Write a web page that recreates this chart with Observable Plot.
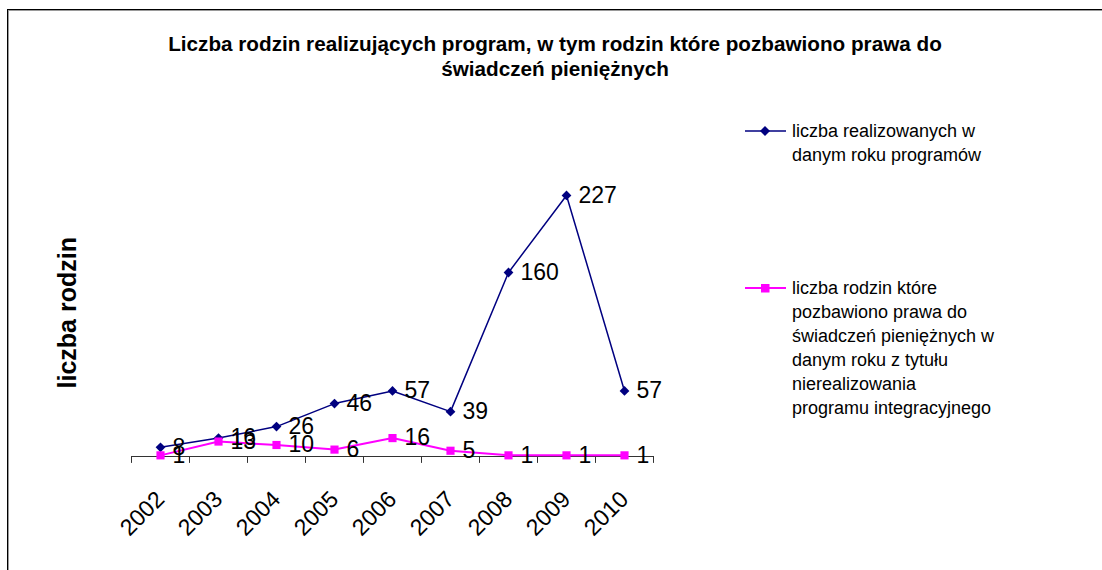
<!DOCTYPE html>
<html>
<head>
<meta charset="utf-8">
<script src="https://cdn.jsdelivr.net/npm/d3@7"></script>
<script src="https://cdn.jsdelivr.net/npm/@observablehq/plot@0.6"></script>
<style>
  html, body { margin: 0; padding: 0; background: #fff; }
  body { font-family: "Liberation Sans", Arial, sans-serif; }
  #wrap { position: relative; width: 1102px; height: 570px; overflow: hidden; background: #fff; }
  #frame { position: absolute; left: 7px; top: 9px; width: 1200px; height: 700px;
           border-left: 1px solid #000; border-top: 1px solid #000; box-shadow: inset 1px 1px 0 #9a9a9a; }
  #title { position: absolute; left: 0; width: 1110px; top: 31px; text-align: center;
           font-weight: bold; font-size: 20.7px; line-height: 25px; color: #000; }
  #chart { position: absolute; left: 0; top: 0; }
  .leg { position: absolute; font-size: 18px; line-height: 24px; color: #000; }
  .leg svg { position: absolute; left: -47px; top: 6px; }
</style>
</head>
<body>
<div id="wrap">
  <div id="frame"></div>
  <div id="chart"></div>
  <div id="title"></div>
  <div id="legend"></div>
</div>
<script>
// ---- data ----
const years = ["2002", "2003", "2004", "2005", "2006", "2007", "2008", "2009", "2010"];
const programs = [8, 16, 26, 46, 57, 39, 160, 227, 57];
const deprived = [1, 13, 10, 6, 16, 5, 1, 1, 1];
const seriesNames = [
  "liczba realizowanych w danym roku programów",
  "liczba rodzin które pozbawiono prawa do świadczeń pieniężnych w danym roku z tytułu nierealizowania programu integracyjnego"
];
const legendLines = [
  ["liczba realizowanych w", "danym roku programów"],
  ["liczba rodzin które", "pozbawiono prawa do", "świadczeń pieniężnych w", "danym roku z tytułu", "nierealizowania", "programu integracyjnego"]
];
const titleLines = ["Liczba rodzin realizujących program, w tym rodzin które pozbawiono prawa do", "świadczeń pieniężnych"];
const yTitle = "liczba rodzin";

const colors = ["#000080", "#FF00FF"];

const rowsA = years.map((y, i) => ({year: y, value: programs[i]}));
const rowsB = years.map((y, i) => ({year: y, value: deprived[i]}));

const W = 1102, H = 570;
const mL = 131, mR = 449, mT = 168.5, mB = 114;
const bw = (W - mL - mR) / years.length;
const font = "Liberation Sans, Arial, sans-serif";

const chart = Plot.plot({
  width: W,
  height: H,
  marginLeft: mL,
  marginRight: mR,
  marginTop: mT,
  marginBottom: mB,
  style: {fontFamily: font, background: "transparent", overflow: "visible"},
  x: {type: "band", domain: years, padding: 0, axis: null},
  y: {domain: [0, 250], axis: null},
  marks: [
    Plot.ruleY([0], {stroke: "#333", strokeWidth: 1}),
    Plot.ruleX(years, {x: d => d, y1: 0, y2: -6, dx: -bw / 2, stroke: "#333", strokeWidth: 1}),
    Plot.ruleX([years[years.length - 1]], {x: d => d, y1: 0, y2: -6, dx: bw / 2, stroke: "#333", strokeWidth: 1}),
    Plot.line(rowsA, {x: "year", y: "value", stroke: colors[0], strokeWidth: 1.5}),
    Plot.line(rowsB, {x: "year", y: "value", stroke: colors[1], strokeWidth: 2}),
    Plot.dot(rowsA, {x: "year", y: "value", symbol: "diamond2", r: 4.4, fill: colors[0], stroke: "none"}),
    Plot.dot(rowsB, {x: "year", y: "value", symbol: "square", r: 4.6, fill: colors[1], stroke: "none"}),
    Plot.text(rowsA, {x: "year", y: "value", text: d => String(d.value), dx: 12, textAnchor: "start", fontSize: 23, fill: "#000"}),
    Plot.text(rowsB, {x: "year", y: "value", text: d => String(d.value), dx: 12, textAnchor: "start", fontSize: 23, fill: "#000"}),
    Plot.text(years, {x: d => d, y: 0, text: d => d, rotate: -45, textAnchor: "end", lineAnchor: "middle", dy: 39, dx: 0, fontSize: 23, fill: "#000"}),
    Plot.text([yTitle], {frameAnchor: "left", text: d => d, dx: -64, rotate: -90, textAnchor: "middle", lineAnchor: "middle", fontWeight: "bold", fontSize: 25, fill: "#000"})
  ]
});
document.getElementById("chart").appendChild(chart);

// title
const t = document.getElementById("title");
titleLines.forEach(l => { const d = document.createElement("div"); d.textContent = l; t.appendChild(d); });

// legend
const legTops = [119, 276];
const symbols = ["diamond", "square"];
const leg = document.getElementById("legend");
legendLines.forEach((lines, i) => {
  const div = document.createElement("div");
  div.className = "leg";
  div.style.left = "792px";
  div.style.top = legTops[i] + "px";
  div.title = seriesNames[i];
  const ns = "http://www.w3.org/2000/svg";
  const svg = document.createElementNS(ns, "svg");
  svg.setAttribute("width", 42);
  svg.setAttribute("height", 12);
  const ln = document.createElementNS(ns, "line");
  ln.setAttribute("x1", 0); ln.setAttribute("x2", 41); ln.setAttribute("y1", 6); ln.setAttribute("y2", 6);
  ln.setAttribute("stroke", colors[i]); ln.setAttribute("stroke-width", i ? 2 : 1.5);
  svg.appendChild(ln);
  const mk = document.createElementNS(ns, "path");
  mk.setAttribute("d", symbols[i] === "diamond" ? "M20,1L25,6L20,11L15,6Z" : "M16,2H24.5V10.5H16Z");
  mk.setAttribute("fill", colors[i]);
  svg.appendChild(mk);
  div.appendChild(svg);
  lines.forEach(l => { const s = document.createElement("div"); s.textContent = l; s.style.whiteSpace = "nowrap"; div.appendChild(s); });
  leg.appendChild(div);
});
</script>
</body>
</html>
